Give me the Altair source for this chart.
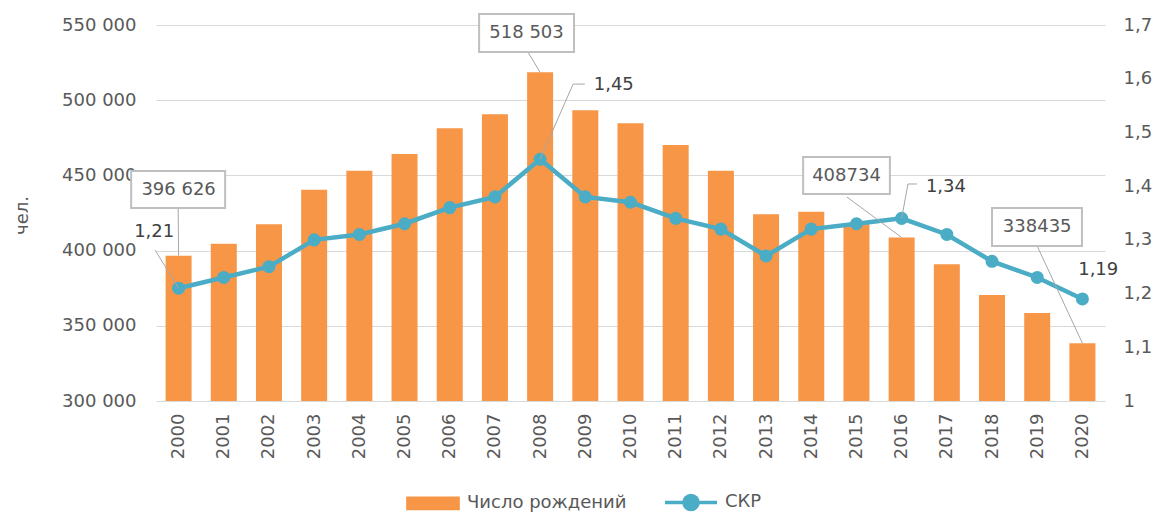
import altair as alt
import pandas as pd

FONT = "DejaVu Sans"
FS = 18
ORANGE = "#F79646"
TEAL = "#4BACC6"
GRAY_TXT = "#595959"
DARK_TXT = "#404040"

# ---- data ----
years = list(range(2000, 2021))
births = [396626, 404600, 417500, 440500, 453100, 464300, 481300, 490600, 518503, 493300,
          484600, 470200, 453100, 424100, 425900, 418000, 408734, 390900, 370500, 358500, 338435]
tfr = [1.21, 1.23, 1.25, 1.30, 1.31, 1.33, 1.36, 1.38, 1.45, 1.38,
       1.37, 1.34, 1.32, 1.27, 1.32, 1.33, 1.34, 1.31, 1.26, 1.23, 1.19]
series_names = ["Число рождений", "СКР"]
left_ticks = [300000, 350000, 400000, 450000, 500000, 550000]
right_ticks = [1.0, 1.1, 1.2, 1.3, 1.4, 1.5, 1.6, 1.7]

# callout labels for births (data units)
bl_text = ["396 626", "518 503", "408734", "338435"]
bl_year = [2000, 2008, 2016, 2020]
bl_value = [396626, 518503, 408734, 338435]
bl_tx = [2000.0, 2007.70, 2014.78, 2019.0]
bl_ty = [440600, 544700, 449900, 415700]
bl_x0 = [1998.95, 2006.65, 2013.82, 2018.0]
bl_x1 = [2001.03, 2008.75, 2015.74, 2019.99]
bl_y0 = [452900, 557300, 462200, 428300]
bl_y1 = [428300, 532000, 437600, 403000]
bl_lx = [1999.99, 2007.73, 2014.79, 2019.0]
bl_ly = [428300, 532000, 435600, 403000]

# callout labels for TFR (data units)
tl_text = ["1,21", "1,45", "1,34", "1,19"]
tl_tx = [1999.46, 2009.63, 2016.98, 2020.35]
tl_ty = [1.315, 1.588, 1.398, 1.244]
# leader segments for TFR labels
ts_x1 = [1999.48, 2008.99, 2008.73, 2016.34, 2016.14]
ts_y1 = [1.281, 1.590, 1.590, 1.404, 1.404]
ts_x2 = [2000, 2008.73, 2008, 2016.14, 2016]
ts_y2 = [1.21, 1.590, 1.45, 1.404, 1.34]

PATH_RECT = "M-0.965,-0.2L0.965,-0.2L0.965,0.2L-0.965,0.2Z"
PATH_LINE = "M-1,0L1,0M-0.27,0A0.27,0.27 0 1,1 0.27,0A0.27,0.27 0 1,1 -0.27,0Z"

df = pd.DataFrame({"year": years, "births": births, "tfr": tfr})
bl_df = pd.DataFrame({"label": bl_text, "tx": bl_tx, "ty": bl_ty, "x0": bl_x0, "x1": bl_x1,
                      "y0": bl_y0, "y1": bl_y1, "lx": bl_lx, "ly": bl_ly,
                      "year": bl_year, "value": bl_value})
tl_df = pd.DataFrame({"label": tl_text, "tx": tl_tx, "ty": tl_ty})
ts_df = pd.DataFrame({"x1": ts_x1, "y1": ts_y1, "x2": ts_x2, "y2": ts_y2})
leg_df = pd.DataFrame({"series": series_names, "year": [2000, 2000], "tfr": [1.21, 1.21]})

xs = alt.Scale(domain=[1999.5, 2020.5], nice=False, zero=False, padding=0)
ls = alt.Scale(domain=[300000, 550000], nice=False, zero=False)
rs = alt.Scale(domain=[1.0, 1.7], nice=False, zero=False)

xaxis = alt.Axis(values=years, format="d", labelAngle=270, labelFontSize=FS, labelFont=FONT,
                 labelColor=GRAY_TXT, labelPadding=12, ticks=False, domain=False,
                 grid=False, title=None, labelOverlap=False)
laxis = alt.Axis(orient="left", values=left_ticks,
                 labelExpr="replace(format(datum.value, ','), ',', ' ')",
                 labelFontSize=FS, labelFont=FONT, labelColor=GRAY_TXT, labelPadding=20,
                 ticks=False, domain=False, grid=True, gridColor="#D9D9D9", gridWidth=1,
                 title="чел.", titleFont=FONT, titleFontSize=FS, titleFontWeight="normal",
                 titleColor=GRAY_TXT, titlePadding=30, titleY=190)
raxis = alt.Axis(orient="right", values=right_ticks,
                 labelExpr="replace(format(datum.value, '.1~f'), '.', ',')",
                 labelFontSize=FS, labelFont=FONT, labelColor=GRAY_TXT, labelPadding=18,
                 ticks=False, domain=False, grid=False, title=None)


def X(f):
    return alt.X(f, scale=xs, axis=xaxis)


bars = alt.Chart(df).mark_bar(color=ORANGE, size=26).encode(
    x=X("year:Q"),
    y=alt.Y("births:Q", scale=ls, axis=laxis),
    y2=alt.datum(300000),
)

leg = alt.Legend(orient="none", legendX=249, legendY=449, direction="horizontal", title=None,
                 symbolSize=2704, symbolStrokeWidth=3.5, symbolOpacity=1,
                 labelFontSize=FS, labelFont=FONT, labelColor=GRAY_TXT,
                 columnPadding=31, labelOffset=6, padding=0)

line = alt.Chart(df).mark_line(color=TEAL, strokeWidth=4.5).encode(
    x=X("year:Q"), y=alt.Y("tfr:Q", scale=rs, axis=raxis))
points = alt.Chart(df).mark_circle(color=TEAL, size=170, opacity=1).encode(
    x=X("year:Q"), y=alt.Y("tfr:Q", scale=rs, axis=raxis))
legend_layer = alt.Chart(leg_df).mark_point(filled=True, opacity=0).encode(
    x=X("year:Q"), y=alt.Y("tfr:Q", scale=rs, axis=raxis),
    shape=alt.Shape("series:N", scale=alt.Scale(domain=series_names, range=[PATH_RECT, PATH_LINE]), legend=leg),
    fill=alt.Fill("series:N", scale=alt.Scale(domain=series_names, range=[ORANGE, TEAL]), legend=leg),
    stroke=alt.Stroke("series:N", scale=alt.Scale(domain=series_names, range=[ORANGE, TEAL]), legend=leg),
)
line_group = alt.layer(line, points, legend_layer)

b_leaders = alt.Chart(bl_df).mark_rule(color="#A6A6A6", strokeWidth=1).encode(
    x=X("lx:Q"), x2="year:Q", y=alt.Y("ly:Q", scale=ls, axis=None), y2="value:Q")
b_boxes = alt.Chart(bl_df).mark_rect(fill="white", stroke="#BFBFBF", strokeWidth=2).encode(
    x=X("x0:Q"), x2="x1:Q", y=alt.Y("y0:Q", scale=ls, axis=None), y2="y1:Q")
b_texts = alt.Chart(bl_df).mark_text(fontSize=FS, font=FONT, color=GRAY_TXT).encode(
    x=X("tx:Q"), y=alt.Y("ty:Q", scale=ls, axis=None), text="label:N")
ann_left = alt.layer(b_leaders, b_boxes, b_texts)

t_leaders = alt.Chart(ts_df).mark_rule(color="#A6A6A6", strokeWidth=1).encode(
    x=X("x1:Q"), x2="x2:Q", y=alt.Y("y1:Q", scale=rs, axis=None), y2="y2:Q")
t_texts = alt.Chart(tl_df).mark_text(fontSize=FS, font=FONT, color=DARK_TXT).encode(
    x=X("tx:Q"), y=alt.Y("ty:Q", scale=rs, axis=None), text="label:N")
ann_right = alt.layer(t_leaders, t_texts)

chart = alt.layer(bars, line_group, ann_left, ann_right).resolve_scale(
    y="independent"
).properties(
    width=949, height=376,
    autosize=alt.AutoSizeParams(type="none"),
    padding={"left": 148, "top": 17, "right": 47, "bottom": 120},
    view=alt.ViewBackground(stroke="transparent", strokeWidth=0),
).configure_view(strokeWidth=0, stroke="transparent").configure_axis(
    domain=False, ticks=False
).configure(background="white")

chart.save("out.html", embed_options={"renderer": "svg", "actions": False})
